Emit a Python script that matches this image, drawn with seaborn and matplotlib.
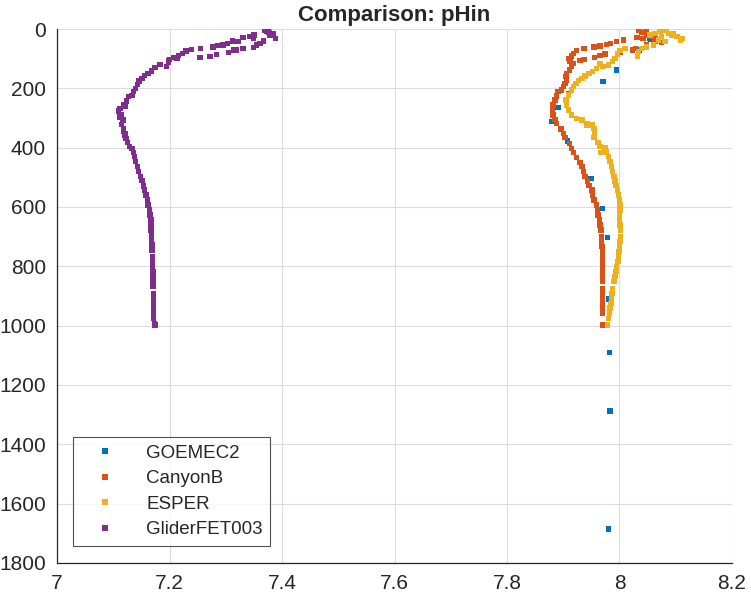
import numpy as np
import pandas as pd
import matplotlib
matplotlib.use('Agg')
import matplotlib.pyplot as plt
import seaborn as sns

# --------------------------------------------------
# Data (pH vs depth)
# --------------------------------------------------
goemec2_ph = [8.054, 8.060, 8.055, 8.035, 7.995, 7.971, 7.909, 7.891, 7.879,
              7.908, 7.949, 7.970, 7.979, 7.980, 7.982, 7.983, 7.980]
goemec2_depth = [31, 54, 34, 71, 138, 177, 217, 264, 312,
                 378, 503, 605, 703, 910, 1091, 1288, 1685]

canyonb_ph = [
    # surface cluster
    8.035, 8.047, 8.039, 8.048, 8.057, 8.063, 8.069, 8.075, 8.042, 8.031,
    8.023, 8.028,
    # upper arc
    8.007, 7.995, 7.984, 7.977, 7.965, 7.955, 7.937, 7.924, 7.918, 7.915,
    7.909, 7.912, 7.918, 7.915, 7.911, 7.906, 7.905, 7.906, 7.903, 7.900,
    7.897, 7.891, 7.888, 7.885, 7.882, 7.881, 7.882, 7.885, 7.888, 7.897,
    # lower arc
    7.930, 7.937, 7.956, 7.965, 7.974, 8.001, 8.048, 8.063,
    # deep profile
    7.895, 7.900, 7.903, 7.911, 7.915, 7.918, 7.924, 7.930, 7.933, 7.936,
    7.939, 7.943, 7.946, 7.951, 7.952, 7.955, 7.959, 7.961, 7.962, 7.964,
    7.965, 7.967, 7.968, 7.968, 7.969, 7.970, 7.970, 7.970, 7.970, 7.970,
    7.970, 7.970, 7.970, 7.970, 7.970, 7.970, 7.970, 7.970, 7.970]
canyonb_depth = [
    3, 1, 12, 20, 26, 32, 39, 46, 32, 28,
    71, 65,
    37, 43, 48, 53, 57, 60, 65, 73, 82, 91,
    99, 110, 116, 127, 138, 149, 161, 172, 183, 194,
    206, 211, 226, 239, 256, 273, 290, 305, 318, 335,
    107, 102, 96, 89, 84, 78, 54, 43,
    337, 352, 366, 385, 402, 416, 434, 449, 464, 481,
    498, 512, 528, 543, 560, 576, 593, 610, 627, 644,
    661, 678, 700, 717, 734, 751, 767, 784, 801, 818,
    835, 852, 874, 891, 908, 925, 941, 958, 998]

esper_ph = [
    # surface cluster
    8.054, 8.063, 8.072, 8.078, 8.084, 8.075, 8.069, 8.081, 8.093, 8.102,
    8.111, 8.108, 8.096, 8.087,
    # right branch
    8.060, 8.048, 8.039, 8.034, 8.032,
    # mid branch
    8.010, 8.001, 7.996, 7.992, 7.988, 7.980, 7.971, 7.965, 7.959, 7.952,
    7.946, 7.939, 7.933, 7.927, 7.923, 7.918, 7.915, 7.909, 7.905, 7.906,
    7.909, 7.915, 7.924, 7.933, 7.942, 7.951, 7.956,
    # deep profile
    7.942, 7.954, 7.956, 7.955, 7.962, 7.965, 7.974, 7.977, 7.967, 7.980,
    7.983, 7.986, 7.988, 7.990, 7.992, 7.994, 7.996, 7.998, 8.000, 8.001,
    8.001, 8.000, 8.000, 8.001, 8.002, 8.002, 8.001, 8.000, 7.999, 7.998,
    7.997, 7.995, 7.994, 7.992, 7.990, 7.988, 7.987, 7.986, 7.985, 7.983,
    7.982, 7.980, 7.979]
esper_depth = [
    20, 15, 9, 3, 1, 26, 37, 43, 20, 26,
    32, 37, 15, 15,
    54, 60, 65, 76, 91,
    65, 73, 84, 99, 110, 121, 127, 118, 133, 144,
    149, 158, 166, 174, 183, 194, 206, 223, 239, 256,
    273, 290, 301, 307, 318, 324, 335,
    324, 335, 352, 366, 382, 397, 400, 414, 416, 430,
    447, 464, 481, 498, 512, 528, 543, 560, 576, 593,
    610, 627, 644, 661, 678, 700, 717, 734, 751, 767,
    784, 801, 818, 835, 852, 874, 891, 908, 925, 941,
    958, 975, 998]

glider_ph = [
    # surface cluster
    7.370, 7.376, 7.385, 7.379, 7.388, 7.373, 7.377,
    # upper branch
    7.350, 7.342, 7.349, 7.331, 7.322, 7.312, 7.303, 7.295, 7.285, 7.277,
    7.255, 7.239, 7.229, 7.223, 7.216, 7.208, 7.200, 7.198, 7.183, 7.174,
    7.168, 7.162, 7.156, 7.151, 7.146, 7.143, 7.140, 7.136, 7.133, 7.127,
    7.124, 7.118, 7.121, 7.112, 7.109, 7.115, 7.112, 7.117, 7.115, 7.118,
    7.121,
    # lower branch
    7.367, 7.361, 7.355, 7.349, 7.331, 7.319, 7.314, 7.305, 7.284, 7.272,
    7.254, 7.213, 7.198, 7.195,
    # deep profile
    7.118, 7.121, 7.123, 7.125, 7.129, 7.133, 7.136, 7.138, 7.140, 7.143,
    7.145, 7.148, 7.151, 7.154, 7.156, 7.158, 7.161, 7.162, 7.164, 7.165,
    7.167, 7.167, 7.167, 7.168, 7.168, 7.169, 7.169, 7.170, 7.170, 7.170,
    7.171, 7.171, 7.171, 7.171, 7.172, 7.172, 7.172, 7.172, 7.172, 7.172,
    7.173, 7.174]
glider_depth = [
    3, 7, 15, 20, 32, 9, 11,
    20, 26, 32, 29, 43, 41, 48, 54, 56, 61,
    65, 70, 74, 82, 90, 96, 102, 112, 119, 130,
    141, 149, 157, 166, 175, 187, 200, 211, 225, 228,
    243, 256, 260, 267, 276, 288, 296, 307, 321, 337,
    352,
    41, 48, 54, 63, 65, 71, 71, 79, 85, 93,
    97, 99, 108, 127,
    346, 357, 369, 383, 397, 402, 417, 430, 447, 464,
    481, 498, 511, 529, 543, 560, 576, 593, 610, 627,
    644, 661, 678, 694, 711, 728, 745, 767, 784, 801,
    818, 835, 852, 869, 891, 908, 925, 942, 958, 975,
    992, 998]

sources = ['GOEMEC2', 'CanyonB', 'ESPER', 'GliderFET003']
colors = ['#0072BD', '#D95319', '#EDB120', '#7E2F8E']

df = pd.concat([
    pd.DataFrame({'pH': goemec2_ph, 'depth': goemec2_depth, 'source': 'GOEMEC2'}),
    pd.DataFrame({'pH': canyonb_ph, 'depth': canyonb_depth, 'source': 'CanyonB'}),
    pd.DataFrame({'pH': esper_ph, 'depth': esper_depth, 'source': 'ESPER'}),
    pd.DataFrame({'pH': glider_ph, 'depth': glider_depth, 'source': 'GliderFET003'}),
], ignore_index=True)

# --------------------------------------------------
# Plot
# --------------------------------------------------
sns.set_style('white')
plt.rcParams['font.family'] = ['Liberation Sans', 'DejaVu Sans']

fig = plt.figure(figsize=(7.51, 5.97), dpi=100)
ax = fig.add_axes([0.0759, 0.057, 0.8988, 0.8944])

sns.scatterplot(data=df, x='pH', y='depth', hue='source', hue_order=sources,
                palette=colors, marker='s', s=15, linewidth=0, ax=ax)

ax.set_xlim(7, 8.2)
ax.set_ylim(1800, 0)
ax.set_xticks([7, 7.2, 7.4, 7.6, 7.8, 8, 8.2])
ax.set_xticklabels(['7', '7.2', '7.4', '7.6', '7.8', '8', '8.2'])
ax.set_yticks(range(0, 1801, 200))
ax.set_xlabel('')
ax.set_ylabel('')
ax.set_title('Comparison: pHin', fontsize=16, fontweight='bold', pad=6)

ax.grid(True, color='#DCDCDC', linewidth=0.8)
ax.set_axisbelow(True)
for side in ['top', 'right']:
    ax.spines[side].set_visible(False)
for side in ['left', 'bottom']:
    ax.spines[side].set_color('#262626')
    ax.spines[side].set_linewidth(0.9)
ax.tick_params(direction='in', length=5, width=0.9, colors='#262626',
               labelsize=15, pad=8)

leg = ax.legend(loc='lower left', bbox_to_anchor=(0.0237, 0.0318), fontsize=13.5,
                frameon=True, fancybox=False, edgecolor='#262626',
                borderaxespad=0, handletextpad=0.9, borderpad=0.4,
                labelspacing=0.45, handlelength=2.6, handleheight=0.7)
leg.get_frame().set_linewidth(0.8)

fig.savefig('out.png', dpi=100)
